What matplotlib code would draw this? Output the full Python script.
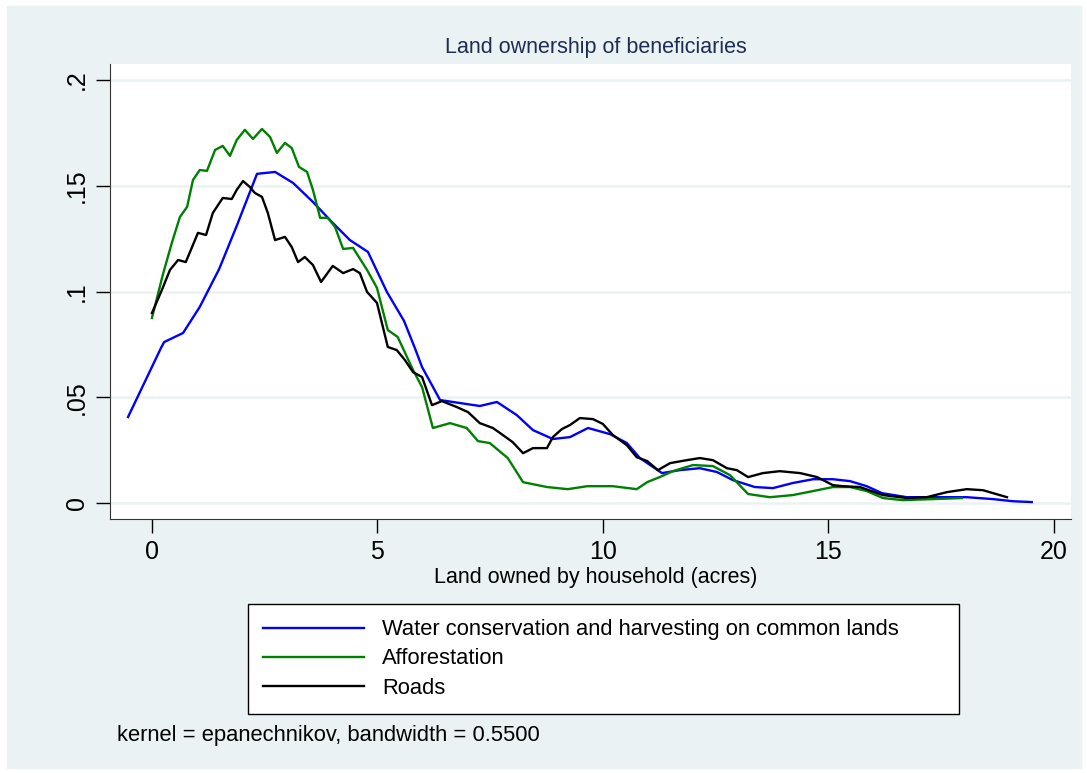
import numpy as np
import matplotlib
matplotlib.use("Agg")
import matplotlib.pyplot as plt

# kernel density estimates
x_water = [-0.53, 0.20, 0.27, 0.69, 1.06, 1.49, 1.88, 2.33, 2.73, 3.13, 3.57, 4.01, 4.39, 4.79,
           5.21, 5.59, 5.83, 5.99, 6.39, 7.27, 7.65, 8.09, 8.45, 8.89, 9.27, 9.67, 10.16, 10.53,
           10.82, 11.31, 11.71, 12.15, 12.53, 12.88, 13.37, 13.77, 14.21, 14.66, 15.10, 15.48,
           15.85, 16.19, 16.74, 17.32, 18.07, 18.65, 19.09, 19.51]
y_water = [0.0407, 0.0733, 0.0761, 0.0804, 0.0927, 0.1106, 0.1310, 0.1556, 0.1565, 0.1513,
           0.1423, 0.1324, 0.1243, 0.1187, 0.0998, 0.0861, 0.0733, 0.0643, 0.0487, 0.0459,
           0.0478, 0.0416, 0.0345, 0.0303, 0.0312, 0.0355, 0.0326, 0.0284, 0.0213, 0.0142,
           0.0156, 0.0165, 0.0147, 0.0109, 0.0076, 0.0071, 0.0095, 0.0113, 0.0113, 0.0104,
           0.0080, 0.0047, 0.0028, 0.0028, 0.0028, 0.0019, 0.0009, 0.0005]

x_affor = [0.00, 0.24, 0.44, 0.62, 0.78, 0.91, 1.06, 1.22, 1.40, 1.57, 1.73, 1.88, 2.06, 2.24,
           2.44, 2.62, 2.77, 2.95, 3.10, 3.26, 3.44, 3.57, 3.73, 3.90, 4.06, 4.24, 4.46, 4.77,
           4.99, 5.23, 5.45, 5.79, 5.99, 6.23, 6.61, 6.98, 7.23, 7.49, 7.89, 8.23, 8.76, 9.22,
           9.65, 10.22, 10.75, 10.98, 11.26, 11.55, 12.00, 12.44, 12.82, 13.22, 13.70, 14.21,
           14.66, 15.10, 15.48, 15.85, 16.21, 16.65, 17.32, 17.96]
y_affor = [0.0875, 0.1078, 0.1229, 0.1352, 0.1400, 0.1527, 0.1574, 0.1570, 0.1669, 0.1688,
           0.1641, 0.1716, 0.1764, 0.1721, 0.1768, 0.1730, 0.1655, 0.1702, 0.1678, 0.1589,
           0.1565, 0.1480, 0.1348, 0.1348, 0.1305, 0.1201, 0.1206, 0.1102, 0.1017, 0.0818,
           0.0785, 0.0629, 0.0548, 0.0355, 0.0378, 0.0355, 0.0293, 0.0284, 0.0213, 0.0099,
           0.0076, 0.0066, 0.0080, 0.0080, 0.0066, 0.0099, 0.0123, 0.0151, 0.0180, 0.0175,
           0.0132, 0.0043, 0.0028, 0.0038, 0.0057, 0.0076, 0.0076, 0.0057, 0.0024, 0.0014,
           0.0019, 0.0024]

x_roads = [0.00, 0.22, 0.40, 0.58, 0.75, 0.89, 1.02, 1.20, 1.35, 1.57, 1.77, 1.88, 2.02, 2.17,
           2.28, 2.44, 2.57, 2.73, 2.95, 3.10, 3.24, 3.39, 3.57, 3.75, 4.01, 4.24, 4.46, 4.61,
           4.77, 4.99, 5.23, 5.43, 5.61, 5.79, 5.99, 6.21, 6.43, 6.76, 7.01, 7.27, 7.56, 7.78,
           8.00, 8.23, 8.45, 8.76, 8.89, 9.09, 9.27, 9.49, 9.78, 10.00, 10.22, 10.53, 10.75,
           10.98, 11.22, 11.49, 11.86, 12.15, 12.44, 12.75, 12.97, 13.22, 13.55, 13.92, 14.37,
           14.75, 15.10, 15.32, 15.70, 16.21, 16.74, 17.18, 17.63, 18.07, 18.43, 18.96]
y_roads = [0.0898, 0.1007, 0.1102, 0.1149, 0.1139, 0.1210, 0.1277, 0.1267, 0.1371, 0.1442,
           0.1437, 0.1480, 0.1522, 0.1494, 0.1466, 0.1447, 0.1371, 0.1243, 0.1258, 0.1210,
           0.1139, 0.1163, 0.1125, 0.1045, 0.1121, 0.1087, 0.1106, 0.1087, 0.0998, 0.0946,
           0.0738, 0.0723, 0.0676, 0.0619, 0.0596, 0.0463, 0.0482, 0.0454, 0.0430, 0.0378,
           0.0355, 0.0322, 0.0288, 0.0236, 0.0260, 0.0260, 0.0312, 0.0350, 0.0369, 0.0402,
           0.0397, 0.0374, 0.0322, 0.0274, 0.0217, 0.0199, 0.0156, 0.0189, 0.0203, 0.0213,
           0.0203, 0.0165, 0.0156, 0.0123, 0.0142, 0.0151, 0.0142, 0.0123, 0.0085, 0.0080,
           0.0076, 0.0038, 0.0024, 0.0028, 0.0052, 0.0066, 0.0061, 0.0028]

labels = ["Water conservation and harvesting on common lands", "Afforestation", "Roads"]
xticks = [0, 5, 10, 15, 20]
yticks = [0, 0.05, 0.1, 0.15, 0.2]
yticklabels = ["0", ".05", ".1", ".15", ".2"]

bg = "#EAF2F3"
plt.rcParams['font.family'] = ['Liberation Sans', 'DejaVu Sans']

W, H = 1087, 773
fig = plt.figure(figsize=(W / 100, H / 100), dpi=100)
fig.patch.set_facecolor("white")
# stata style outer panel
fig.add_artist(plt.Rectangle((7 / W, 1 - 768 / H), 1074 / W, 762 / H,
                             transform=fig.transFigure, color=bg, zorder=0))

ax = fig.add_axes([110 / W, 1 - 519 / H, 961 / W, 455 / H])
ax.set_facecolor("white")
ax.plot(x_water, y_water, color="#0000FF", lw=1.7, label=labels[0])
ax.plot(x_affor, y_affor, color="#008000", lw=1.7, label=labels[1])
ax.plot(x_roads, y_roads, color="black", lw=1.7, label=labels[2])

ax.set_xlim(-0.93, 20.38)
ax.set_ylim(-0.0075, 0.2075)
ax.set_xticks(xticks)
ax.set_xticklabels([str(t) for t in xticks])
ax.set_yticks(yticks)
ax.set_yticklabels(yticklabels, rotation=90, va="center")
ax.tick_params(labelsize=18, length=10, width=1, direction="out", pad=5)
for t in yticks:
    ax.axhline(t, color=bg, lw=1.8, zorder=0)
ax.spines["top"].set_visible(False)
ax.spines["right"].set_visible(False)
ax.spines["left"].set_color("#333333")
ax.spines["bottom"].set_color("#333333")

fig.text(596 / W, 1 - 47 / H, "Land ownership of beneficiaries", ha="center", va="center",
         fontsize=15.5, color="#1E2D53")
fig.text(596 / W, 1 - 577 / H, "Land owned by household (acres)", ha="center", va="center",
         fontsize=15.5, color="black")
fig.text(117 / W, 1 - 735 / H, "kernel = epanechnikov, bandwidth = 0.5500", ha="left",
         va="center", fontsize=15.8, color="black")

leg = fig.legend(loc="upper left", bbox_to_anchor=(248 / W, 1 - 711 / H, 711 / W, 107 / H),
                 mode="expand", fontsize=15.8, frameon=True, fancybox=False,
                 framealpha=1, facecolor="white",
                 handlelength=4.6, handletextpad=0.82, labelspacing=0.37,
                 borderpad=0.7, borderaxespad=0)
leg.get_frame().set_edgecolor("black")
leg.get_frame().set_linewidth(1.0)

fig.savefig("out.png", dpi=100, facecolor=fig.get_facecolor())
